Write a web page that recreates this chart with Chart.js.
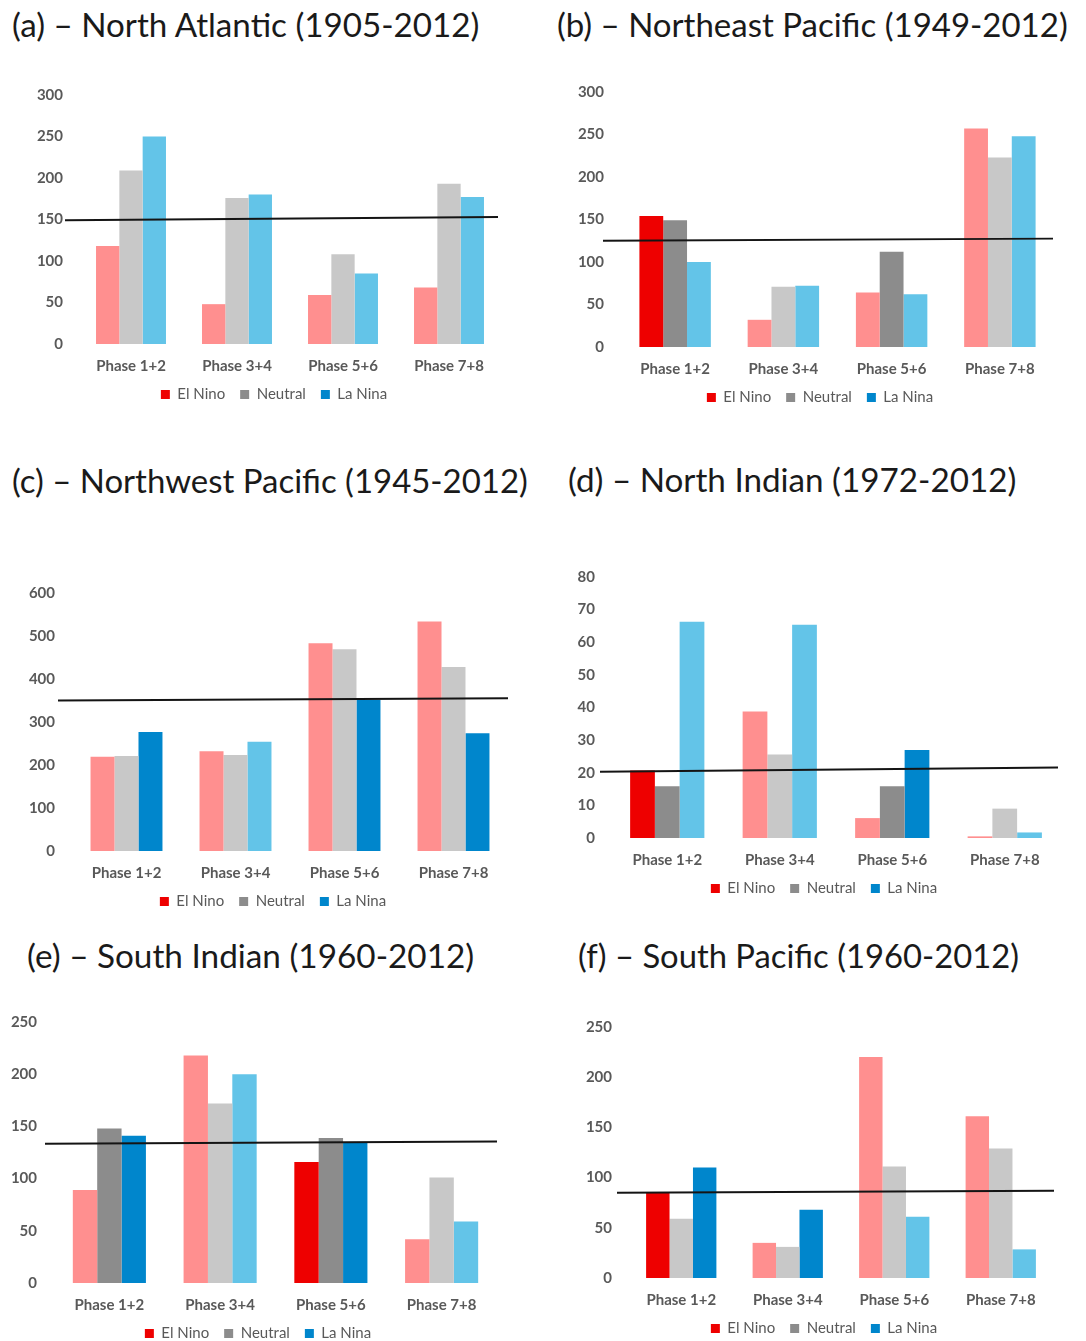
<!DOCTYPE html>
<html>
<head>
<meta charset="utf-8">
<script src="https://cdn.jsdelivr.net/npm/chart.js@4.4.0/dist/chart.umd.min.js"></script>
<style>
  body { margin: 0; background: #fff; width: 1086px; height: 1341px; position: relative; overflow: hidden; font-family: Lato, sans-serif; }
  .ttl { position: absolute; font-size: 29px; line-height: 1; color: #1a1a1a; white-space: nowrap; }
  .wrap { position: absolute; }
</style>
</head>
<body>

<script>
// data ###########################################################################################
const phases = ["Phase 1+2", "Phase 3+4", "Phase 5+6", "Phase 7+8"];
const seriesNames = ["El Nino", "Neutral", "La Nina"];

// (a) North Atlantic
const naElNino  = [118, 48, 59, 68];
const naNeutral = [209, 176, 108, 193];
const naLaNina  = [250, 180, 85, 177];
const naSig     = [[0, 0, 0, 0], [0, 0, 0, 0], [0, 0, 0, 0]];
const naMean    = [149, 153];

// (b) Northeast Pacific
const nepElNino  = [154, 32, 64, 257];
const nepNeutral = [149, 71, 112, 223];
const nepLaNina  = [100, 72, 62, 248];
const nepSig     = [[1, 0, 0, 0], [1, 0, 1, 0], [0, 0, 0, 0]];
const nepMean    = [125, 127.5];

// (c) Northwest Pacific
const nwpElNino  = [219, 232, 483, 534];
const nwpNeutral = [221, 223, 469, 428];
const nwpLaNina  = [277, 254, 351, 274];
const nwpSig     = [[0, 0, 0, 0], [0, 0, 0, 0], [1, 0, 1, 1]];
const nwpMean    = [350, 355];

// (d) North Indian
const niElNino  = [20.7, 38.8, 6.1, 0.5];
const niNeutral = [15.9, 25.6, 15.9, 9];
const niLaNina  = [66.3, 65.4, 27, 1.7];
const niSig     = [[1, 0, 0, 0], [1, 0, 1, 0], [0, 0, 1, 0]];
const niMean    = [20.3, 21.6];

// (e) South Indian
const siElNino  = [89, 218, 116, 42];
const siNeutral = [148, 172, 139, 101];
const siLaNina  = [141, 200, 135, 59];
const siSig     = [[0, 0, 1, 0], [1, 0, 1, 0], [1, 0, 1, 0]];
const siMean    = [133.5, 135.5];

// (f) South Pacific
const spElNino  = [85, 35, 220, 161];
const spNeutral = [59, 31, 111, 129];
const spLaNina  = [110, 68, 61, 28.5];
const spSig     = [[1, 0, 0, 0], [0, 0, 0, 0], [1, 1, 0, 0]];
const spMean    = [85, 87];

// colours: [light, strong] per series
const barColors = [["#FF8F8F", "#EE0000"], ["#C8C8C8", "#8C8C8C"], ["#63C4E8", "#0086CC"]];
const legendColors = ["#EE0000", "#8C8C8C", "#0086CC"];
const tickColor = "#595959";

// horizontal mean line, drawn through the y scale
const meanLine = {
    id: "meanLine",
    afterDatasetsDraw(chart, args, opts) {
        const { ctx, chartArea, scales } = chart;
        const y = scales.y;
        ctx.save();
        ctx.strokeStyle = "#141414";
        ctx.lineWidth = 2;
        ctx.beginPath();
        ctx.moveTo(chartArea.left - opts.extL, y.getPixelForValue(opts.values[0]));
        ctx.lineTo(chartArea.right - opts.extR, y.getPixelForValue(opts.values[1]));
        ctx.stroke();
        ctx.restore();
    }
};

const TICK_HALF = 9, X_H = 28, LEG_H = 34;

// keep the legend box a fixed height so plot areas line up, and nudge it sideways
const fixLegend = {
    id: "fixLegend",
    beforeInit(chart) {
        const orig = chart.legend.fit;
        chart.legend.fit = function () { orig.call(this); this.height = LEG_H; };
    },
    afterLayout(chart, args, opts) {
        chart.legend.left += opts.dx;
        chart.legend.right += opts.dx;
    }
};

function addTitle(text, left, centerY, targetW) {
    const d = document.createElement("div");
    d.className = "ttl";
    d.textContent = text;
    document.body.appendChild(d);
    const fs = 29 * targetW / d.offsetWidth;
    d.style.fontSize = fs + "px";
    d.style.left = left + "px";
    d.style.top = (centerY - fs / 2) + "px";
}

function drawPanel(p, el, ne, ln, sig, mean, yMax, yStep) {
    const tickPad = p.plotLeft - p.labelRight;
    // y axis reserves half a label plus its tick padding above the plot
    const topOff = TICK_HALF + tickPad;
    const w = p.plotRight - p.canvasLeft;
    const h = topOff + (p.plotBottom - p.plotTop) + X_H + LEG_H;
    const legendDx = p.legendC - (p.canvasLeft + p.plotRight) / 2;

    const wrap = document.createElement("div");
    wrap.className = "wrap";
    wrap.style.left = p.canvasLeft + "px";
    wrap.style.top = (p.plotTop - topOff) + "px";
    const canvas = document.createElement("canvas");
    canvas.width = w;
    canvas.height = h;
    wrap.appendChild(canvas);
    document.body.appendChild(wrap);

    const values = [el, ne, ln];
    const datasets = values.map((v, i) => ({
        label: seriesNames[i],
        data: v,
        backgroundColor: sig[i].map(s => barColors[i][s]),
        borderWidth: 0,
        categoryPercentage: 0.66,
        barPercentage: 1.0
    }));

    new Chart(canvas.getContext("2d"), {
        type: "bar",
        data: { labels: phases, datasets: datasets },
        options: {
            responsive: false,
            animation: false,
            layout: { padding: 0 },
            scales: {
                x: {
                    grid: { display: false, drawTicks: false },
                    border: { display: false },
                    ticks: { color: tickColor, padding: 13, font: { family: "Lato", size: 15, weight: "bold" } },
                    afterFit: s => { s.height = X_H; }
                },
                y: {
                    min: 0,
                    max: yMax,
                    grid: { display: false, drawTicks: false },
                    border: { display: false },
                    ticks: { stepSize: yStep, color: tickColor, padding: tickPad, font: { family: "Lato", size: 15, weight: "bold" } },
                    afterFit: s => { s.width = p.plotLeft - p.canvasLeft; }
                }
            },
            plugins: {
                tooltip: { enabled: false },
                legend: {
                    position: "bottom",
                    labels: {
                        boxWidth: 9,
                        boxHeight: 9,
                        padding: 15,
                        color: tickColor,
                        font: { family: "Lato", size: 15 },
                        generateLabels: () => seriesNames.map((t, i) => ({
                            text: t, fillStyle: legendColors[i], strokeStyle: legendColors[i],
                            lineWidth: 0, hidden: false, datasetIndex: i, fontColor: tickColor
                        }))
                    }
                },
                fixLegend: { dx: legendDx },
                meanLine: { values: mean, extL: p.extL, extR: p.extR }
            }
        },
        plugins: [fixLegend, meanLine]
    });
}

addTitle("(a) \u2013 North Atlantic (1905-2012)", 12, 25, 468);
addTitle("(b) \u2013 Northeast Pacific (1949-2012)", 557, 25, 511);
addTitle("(c) \u2013 Northwest Pacific (1945-2012)", 12, 480, 516);
addTitle("(d) \u2013 North Indian (1972-2012)", 568, 480, 448);
addTitle("(e) \u2013 South Indian (1960-2012)", 27, 956, 447);
addTitle("(f) \u2013 South Pacific (1960-2012)", 578, 956, 441);

drawPanel({ canvasLeft: 25, labelRight: 63, plotLeft: 78, plotRight: 502, plotTop: 95, plotBottom: 344, legendC: 274, extL: 13, extR: 4 },
    naElNino, naNeutral, naLaNina, naSig, naMean, 300, 50);
drawPanel({ canvasLeft: 566, labelRight: 604, plotLeft: 621, plotRight: 1054, plotTop: 92, plotBottom: 347, legendC: 820, extL: 18, extR: 1 },
    nepElNino, nepNeutral, nepLaNina, nepSig, nepMean, 300, 50);
drawPanel({ canvasLeft: 17, labelRight: 55, plotLeft: 72, plotRight: 508, plotTop: 593, plotBottom: 851, legendC: 273, extL: 14, extR: 0 },
    nwpElNino, nwpNeutral, nwpLaNina, nwpSig, nwpMean, 600, 100);
drawPanel({ canvasLeft: 562, labelRight: 595, plotLeft: 611, plotRight: 1061, plotTop: 577, plotBottom: 838, legendC: 824, extL: 11, extR: 3 },
    niElNino, niNeutral, niLaNina, niSig, niMean, 80, 10);
drawPanel({ canvasLeft: 0, labelRight: 37, plotLeft: 54, plotRight: 497, plotTop: 1022, plotBottom: 1283, legendC: 258, extL: 9, extR: -1 },
    siElNino, siNeutral, siLaNina, siSig, siMean, 250, 50);
drawPanel({ canvasLeft: 574, labelRight: 612, plotLeft: 628, plotRight: 1054, plotTop: 1027, plotBottom: 1278, legendC: 824, extL: 11, extR: 0 },
    spElNino, spNeutral, spLaNina, spSig, spMean, 250, 50);
</script>
</body>
</html>
